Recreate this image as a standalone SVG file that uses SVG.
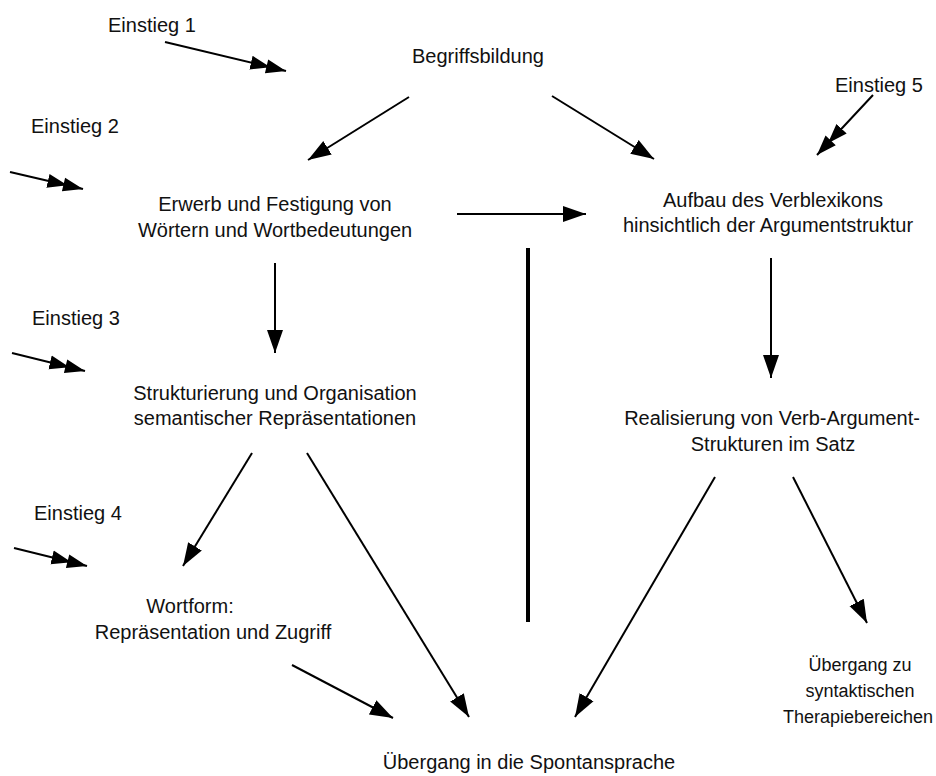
<svg xmlns="http://www.w3.org/2000/svg" width="936" height="776" viewBox="0 0 936 776">
<style>
text { font-family: "Liberation Sans", Arial, sans-serif; font-size: 20px; fill: #111; }
.c { text-anchor: middle; }
.s { font-size: 18px; }
.ln { stroke: #000; stroke-width: 2; fill: none; }
.arr { marker-end: url(#head); }
.dbl { marker-end: url(#dhead); }
.thick { stroke: #000; stroke-width: 4; }
</style>
<defs>
<marker id="head" markerUnits="userSpaceOnUse" viewBox="0 -9 24 18" refX="23" refY="0" markerWidth="24" markerHeight="18" orient="auto">
<path d="M0,-8 L23,0 L0,8 Z" fill="#000"/>
</marker>
<marker id="dhead" markerUnits="userSpaceOnUse" viewBox="0 -9 38 18" refX="36" refY="0" markerWidth="38" markerHeight="18" orient="auto">
<path d="M0,-7 L20,0 L0,7 Z M16,-7 L36,0 L16,7 Z" fill="#000"/>
</marker>
</defs>
<rect width="936" height="776" fill="#fff"/>

<g id="einstieg1"><text x="108" y="32">Einstieg 1</text></g>
<g id="einstieg2"><text x="31" y="133">Einstieg 2</text></g>
<g id="einstieg3"><text x="32" y="325">Einstieg 3</text></g>
<g id="einstieg4"><text x="34" y="520">Einstieg 4</text></g>
<g id="einstieg5"><text x="835" y="92">Einstieg 5</text></g>

<g id="begriffsbildung"><text class="c" x="478" y="63">Begriffsbildung</text></g>
<g id="erwerb">
<text class="c" x="275" y="211">Erwerb und Festigung von</text>
<text class="c" x="275" y="237">Wörtern und Wortbedeutungen</text>
</g>
<g id="aufbau">
<text class="c" x="773" y="207">Aufbau des Verblexikons</text>
<text class="c" x="768" y="232">hinsichtlich der Argumentstruktur</text>
</g>
<g id="strukturierung">
<text class="c" x="275" y="400">Strukturierung und Organisation</text>
<text class="c" x="275" y="425">semantischer Repräsentationen</text>
</g>
<g id="realisierung">
<text class="c" x="772" y="425">Realisierung von Verb-Argument-</text>
<text class="c" x="773" y="451">Strukturen im Satz</text>
</g>
<g id="wortform">
<text class="c" x="190" y="613">Wortform:</text>
<text class="c" x="213" y="639">Repräsentation und Zugriff</text>
</g>
<g id="uebergang-syntax">
<text class="c s" x="860" y="671">Übergang zu</text>
<text class="c s" x="860" y="697">syntaktischen</text>
<text class="c s" x="858" y="723">Therapiebereichen</text>
</g>
<g id="uebergang-spontan"><text class="c" x="529" y="769">Übergang in die Spontansprache</text></g>

<g id="connectors">
<line class="ln dbl" x1="165" y1="42" x2="286" y2="71"/>
<line class="ln dbl" x1="10" y1="172" x2="83" y2="189"/>
<line class="ln dbl" x1="12" y1="353" x2="85" y2="371"/>
<line class="ln dbl" x1="14" y1="548" x2="87" y2="566"/>
<line class="ln dbl" x1="873" y1="95" x2="817" y2="155"/>

<line class="ln arr" x1="409" y1="97" x2="308" y2="160"/>
<line class="ln arr" x1="552" y1="96" x2="654" y2="159"/>
<line class="ln arr" x1="457" y1="214" x2="586" y2="214"/>
<line class="ln arr" x1="275" y1="263" x2="275" y2="353"/>
<line class="ln arr" x1="771" y1="258" x2="771" y2="378"/>
<line class="thick" x1="528" y1="248" x2="528" y2="622"/>
<line class="ln arr" x1="252" y1="453" x2="183" y2="566"/>
<line class="ln arr" x1="307" y1="453" x2="469" y2="717"/>
<line class="ln arr" x1="292" y1="665" x2="393" y2="718"/>
<line class="ln arr" x1="715" y1="477" x2="575" y2="717"/>
<line class="ln arr" x1="793" y1="477" x2="867" y2="623"/>
</g>
</svg>
